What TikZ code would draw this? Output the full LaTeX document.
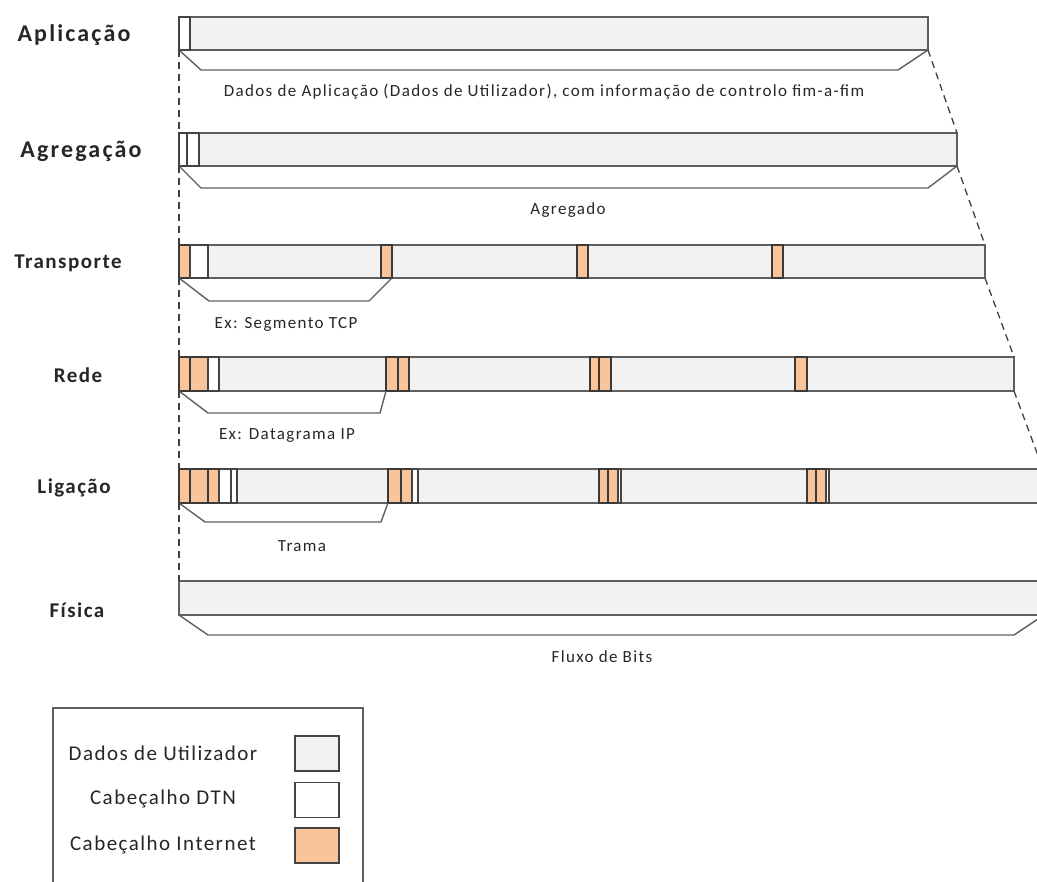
\documentclass[tikz,border=0pt]{standalone}
\usepackage{fontspec}
\setmainfont{Carlito}
\definecolor{datafill}{HTML}{F2F2F2}
\definecolor{inetfill}{HTML}{F9C49A}
\definecolor{edge}{HTML}{5F5F5F}
\definecolor{ink}{HTML}{262626}
\newcommand{\spaced}[1]{\addfontfeature{LetterSpace=#1}}
\begin{document}
\begin{tikzpicture}[x=1pt,y=-1pt,
  bar/.style={draw=edge, fill=datafill, line width=1.4pt, rectangle, anchor=north west,
    inner sep=0pt, outer sep=0pt, minimum height=34pt},
  dtn/.style={draw=edge!70!black, fill=white, line width=1.3pt},
  inet/.style={draw=edge!60!black, fill=inetfill, line width=1.3pt},
  span/.style={draw=edge, line width=1.4pt, line join=round},
  guide/.style={draw=black!75, line width=1.3pt, dash pattern=on 7pt off 5pt},
  layer/.style={font=\bfseries\fontsize{21}{25}\selectfont\spaced{7}, text=ink, inner sep=0pt},
  widelayer/.style={font=\bfseries\fontsize{24}{28}\selectfont\spaced{9}, text=ink, inner sep=0pt},
  caption/.style={font=\fontsize{17}{20}\selectfont\spaced{8}, text=ink, inner sep=0pt},
  keytext/.style={font=\fontsize{21}{25}\selectfont\spaced{7}, text=ink, inner sep=0pt},
  swatch/.style={draw=edge!70!black, line width=1.4pt, rectangle, inner sep=0pt,
    minimum width=44pt, minimum height=35pt},
  ]
\useasboundingbox (0,0) rectangle (1037,882);
\clip (0,0) rectangle (1037,882);

% layer names
\node[widelayer] (lapp) at (74,35)  {Aplicação};
\node[widelayer] (lagg) at (81,151) {Agregação};
\node[layer] (ltra) at (68,263) {Transporte};
\node[layer] (lnet) at (78,375) {Rede};
\node[layer] (llnk) at (74,488) {Ligação};
\node[layer] (lphy) at (77,610) {Física};

% data units
\node[bar, minimum width=749pt, minimum height=33pt] (app) at (179,17)  {};
\node[bar, minimum width=778pt, minimum height=33pt] (agg) at (179,133) {};
\node[bar, minimum width=806pt, minimum height=33pt] (tra) at (179,245) {};
\node[bar, minimum width=835pt] (net) at (179,357) {};
\node[bar, minimum width=864pt] (lnk) at (179,469) {};
\node[bar, minimum width=865pt] (phy) at (179,581) {};

% headers: application
\draw[dtn] (179,17) rectangle (190,50);
% headers: aggregation
\draw[dtn] (179,133) rectangle (187,166);
\draw[dtn] (187,133) rectangle (199,166);
% headers: transport
\draw[inet] (179,245) rectangle (190,278);
\draw[dtn]  (190,245) rectangle (208,278);
\foreach \a/\b in {381/392, 577/588, 772/783}
  \draw[inet] (\a,245) rectangle (\b,278);
% headers: network
\foreach \a/\b in {179/190, 190/208, 386/398, 398/409, 590/599, 599/611, 795/807}
  \draw[inet] (\a,357) rectangle (\b,391);
\draw[dtn] (208,357) rectangle (219,391);
% headers: link
\foreach \a/\b in {179/190, 190/208, 208/219, 388/401, 401/412, 599/608, 608/618, 807/816, 816/826}
  \draw[inet] (\a,469) rectangle (\b,503);
\foreach \a/\b in {219/231, 231/237, 412/418, 618/621, 826/829}
  \draw[dtn] (\a,469) rectangle (\b,503);

% spans of each unit
\draw[span] (app.south west) -- (201,70)  -- (898,70)  -- (app.south east);
\draw[span] (agg.south west) -- (201,188) -- (928,188) -- (agg.south east);
\draw[span] (tra.south west) -- (209,301) -- (369,301) -- (392,278);
\draw[span] (net.south west) -- (208,413) -- (380,413) -- (386,391);
\draw[span] (lnk.south west) -- (205,522) -- (381,522) -- (388,503);
\draw[span] (phy.south west) -- (208,635) -- (1014,635) -- (phy.south east);

% encapsulation guides
\draw[guide] (app.south west) -- (agg.north west);
\draw[guide] (agg.south west) -- (tra.north west);
\draw[guide] (tra.south west) -- (net.north west);
\draw[guide] (net.south west) -- (lnk.north west);
\draw[guide] (lnk.south west) -- (phy.north west);
\draw[guide] (app.south east) -- (agg.north east);
\draw[guide] (agg.south east) -- (tra.north east);
\draw[guide] (tra.south east) -- (net.north east);
\draw[guide] (net.south east) -- (lnk.north east);

% captions
\node[caption] (capp) at (544,92)  {Dados de Aplicação (Dados de Utilizador), com informação de controlo fim-a-fim};
\node[caption] (cagg) at (568,210) {Agregado};
\node[caption] (ctra) at (286,324) {Ex: Segmento TCP};
\node[caption] (cnet) at (287,436) {Ex: Datagrama IP};
\node[caption] (clnk) at (302,546) {Trama};
\node[caption] (cphy) at (602,657) {Fluxo de Bits};

% legend
\draw[draw=edge, line width=1.4pt] (53,900) -- (53,708) -- (363,708) -- (363,900);
\node[swatch, fill=datafill] (kdata) at (317,753.5) {};
\node[swatch, fill=white]    (kdtn)  at (317,800)   {};
\node[swatch, fill=inetfill] (kinet) at (317,845.5) {};
\node[keytext] (tdata) at (163,753) {Dados de Utilizador};
\node[keytext] (tdtn)  at (163,799) {Cabeçalho DTN};
\node[keytext] (tinet) at (163,845) {Cabeçalho Internet};
\end{tikzpicture}
\end{document}
